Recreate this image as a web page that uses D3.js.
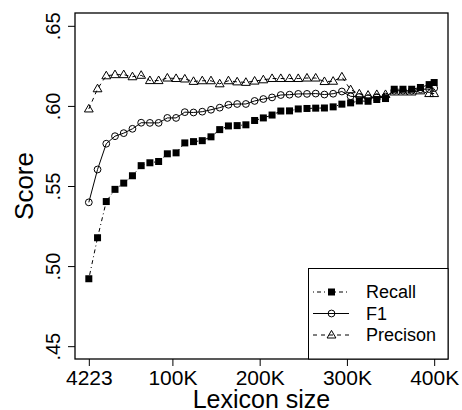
<!DOCTYPE html>
<html>
<head>
<meta charset="utf-8" />
<script src="https://d3js.org/d3.v7.min.js"></script>
<style>
  body { margin: 0; background: #fff; }
  text { font-family: "Liberation Sans", Arial, sans-serif; fill: #000; }
</style>
</head>
<body>
<svg id="chart" width="462" height="410"></svg>
<script>
// lexicon sizes (x) and the three scores
var lexSizes = [4223, 14223, 24223, 34223, 44223, 54223, 64223, 74223, 84223, 94223,
  104223, 114223, 124223, 134223, 144223, 154223, 164223, 174223, 184223, 194223,
  204223, 214223, 224223, 234223, 244223, 254223, 264223, 274223, 284223, 294223,
  304223, 314223, 324223, 334223, 344223, 354223, 364223, 374223, 384223, 394223, 400000];

var recall = [0.4921, 0.5177, 0.5403, 0.5479, 0.5518, 0.5564, 0.5627, 0.5645, 0.5653, 0.5701,
  0.5707, 0.5769, 0.5777, 0.5783, 0.5807, 0.5852, 0.5875, 0.5877, 0.5882, 0.5909,
  0.5925, 0.5943, 0.5968, 0.5969, 0.5981, 0.5984, 0.5986, 0.5987, 0.5994, 0.6011,
  0.6019, 0.6031, 0.6029, 0.6040, 0.6046, 0.6104, 0.6104, 0.6104, 0.6115, 0.6133, 0.6146];

var f1 = [0.5398, 0.5603, 0.5764, 0.5811, 0.5830, 0.5857, 0.5895, 0.5894, 0.5894, 0.5925,
  0.5925, 0.5961, 0.5959, 0.5964, 0.5976, 0.5989, 0.6007, 0.6012, 0.6012, 0.6031,
  0.6043, 0.6053, 0.6068, 0.6070, 0.6075, 0.6075, 0.6077, 0.6071, 0.6076, 0.6090,
  0.6060, 0.6056, 0.6048, 0.6055, 0.6058, 0.6095, 0.6095, 0.6095, 0.6104, 0.6105, 0.6111];

var precision = [0.5981, 0.6107, 0.6188, 0.6195, 0.6195, 0.6182, 0.6191, 0.6158, 0.6158, 0.6174,
  0.6171, 0.6168, 0.6153, 0.6157, 0.6157, 0.6138, 0.6157, 0.6150, 0.6147, 0.6155,
  0.6163, 0.6171, 0.6171, 0.6171, 0.6171, 0.6174, 0.6174, 0.6152, 0.6154, 0.6181,
  0.6101, 0.6075, 0.6067, 0.6071, 0.6071, 0.6087, 0.6087, 0.6087, 0.6094, 0.6077, 0.6077];

var xTicks = [4223, 100000, 200000, 300000, 400000];
var xTickLabels = ["4223", "100K", "200K", "300K", "400K"];
var yTicks = [0.45, 0.50, 0.55, 0.60, 0.65];
var yTickLabels = [".45", ".50", ".55", ".60", ".65"];
var seriesNames = ["Recall", "F1", "Precison"];

var svg = d3.select("#chart");
var pLeft = 75, pRight = 448, pTop = 13, pBottom = 359;

// R style 4% padding around data / limits
var x = d3.scaleLinear().domain([-11608, 415831]).range([pLeft, pRight]);
var y = d3.scaleLinear().domain([0.442, 0.658]).range([pBottom, pTop]);

var series = [
  {name: seriesNames[0], values: recall, dash: "1,3,4,3", shape: "square"},
  {name: seriesNames[1], values: f1, dash: null, shape: "circle"},
  {name: seriesNames[2], values: precision, dash: "4,4", shape: "triangle"}
];

function drawMarker(g, shape, cx, cy) {
  if (shape == "square") {
    g.append("rect").attr("x", cx - 3.5).attr("y", cy - 3.5)
      .attr("width", 7).attr("height", 7).attr("fill", "#000");
  } else if (shape == "circle") {
    g.append("circle").attr("cx", cx).attr("cy", cy).attr("r", 3.4)
      .attr("fill", "none").attr("stroke", "#000").attr("stroke-width", 1);
  } else {
    g.append("path")
      .attr("d", "M" + cx + "," + (cy - 4.6) + "L" + (cx + 4.4) + "," + (cy + 3) + "L" + (cx - 4.4) + "," + (cy + 3) + "Z")
      .attr("fill", "none").attr("stroke", "#000").attr("stroke-width", 1);
  }
}

var line = d3.line()
  .x(function(d) { return x(d[0]); })
  .y(function(d) { return y(d[1]); });

series.forEach(function(s) {
  var pts = lexSizes.map(function(v, i) { return [v, s.values[i]]; });
  var g = svg.append("g");
  g.append("path").datum(pts)
    .attr("d", line)
    .attr("fill", "none")
    .attr("stroke", "#000")
    .attr("stroke-width", 1)
    .attr("stroke-dasharray", s.dash);
  pts.forEach(function(p) { drawMarker(g, s.shape, x(p[0]), y(p[1])); });
});

// axes
var xAxis = svg.append("g").attr("transform", "translate(0," + pBottom + ")")
  .call(d3.axisBottom(x).tickValues(xTicks).tickSize(7).tickPadding(4)
    .tickFormat(function(d, i) { return xTickLabels[i]; }));
xAxis.select(".domain").remove();
xAxis.selectAll("text").style("font-size", "21px").attr("dy", "0.71em");
xAxis.selectAll("line").attr("stroke", "#000");

var yAxis = svg.append("g").attr("transform", "translate(" + pLeft + ",0)")
  .call(d3.axisLeft(y).tickValues(yTicks).tickSize(7)
    .tickFormat(function(d, i) { return yTickLabels[i]; }));
yAxis.select(".domain").remove();
yAxis.selectAll("line").attr("stroke", "#000");
yAxis.selectAll("text")
  .style("font-size", "20px")
  .attr("x", null).attr("dy", null)
  .attr("text-anchor", "middle")
  .attr("transform", "translate(-15,0) rotate(-90)");

// box
svg.append("rect")
  .attr("x", pLeft).attr("y", pTop)
  .attr("width", pRight - pLeft).attr("height", pBottom - pTop)
  .attr("fill", "none").attr("stroke", "#000").attr("stroke-width", 1.3);

// axis titles
svg.append("text")
  .attr("x", (pLeft + pRight) / 2).attr("y", 408)
  .attr("text-anchor", "middle").style("font-size", "25px")
  .text("Lexicon size");
svg.append("text")
  .attr("transform", "translate(33," + ((pTop + pBottom) / 2) + ") rotate(-90)")
  .attr("text-anchor", "middle").style("font-size", "26px")
  .text("Score");

// legend
var lg = svg.append("g");
lg.append("rect")
  .attr("x", 308.5).attr("y", 268.5)
  .attr("width", pRight - 308.5).attr("height", pBottom - 268.5)
  .attr("fill", "#fff").attr("stroke", "#000").attr("stroke-width", 1);
var rowY = [292, 313.5, 335];
series.forEach(function(s, i) {
  lg.append("line")
    .attr("x1", 313).attr("x2", 349)
    .attr("y1", rowY[i]).attr("y2", rowY[i])
    .attr("stroke", "#000").attr("stroke-width", 1)
    .attr("stroke-dasharray", s.dash);
  drawMarker(lg, s.shape, 331.5, rowY[i]);
  lg.append("text")
    .attr("x", 366).attr("y", rowY[i]).attr("dy", "0.35em")
    .style("font-size", "18px")
    .text(s.name);
});
</script>
</body>
</html>
